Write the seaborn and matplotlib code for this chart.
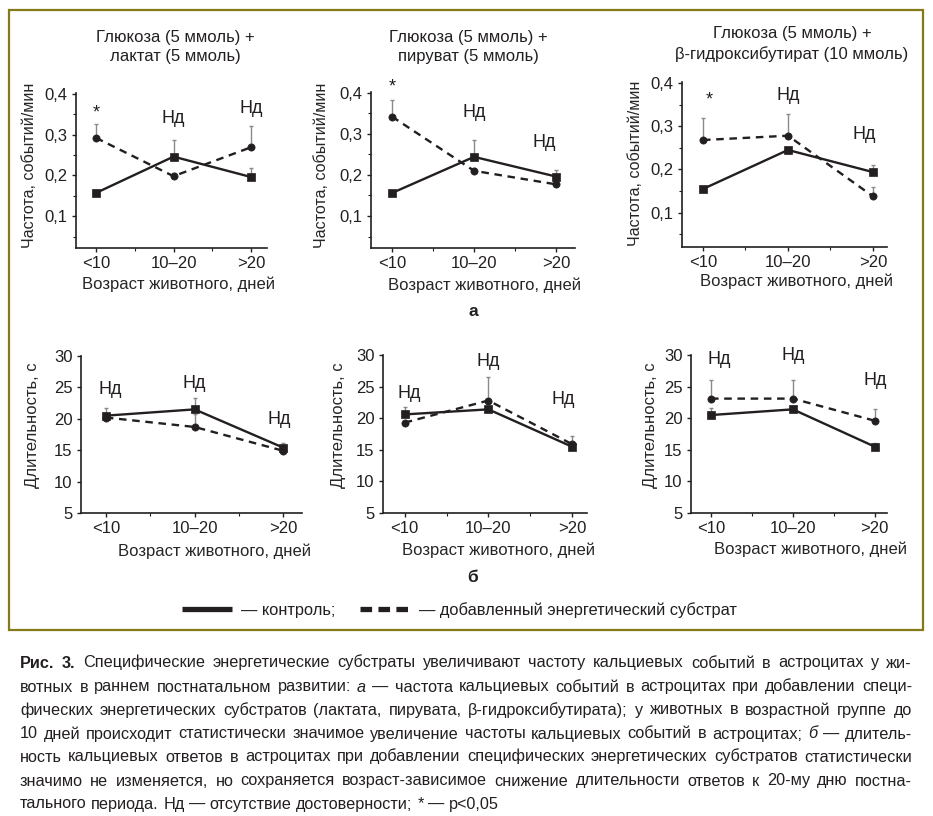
import numpy as np
import pandas as pd
import matplotlib
matplotlib.use("Agg")
import matplotlib.pyplot as plt
import seaborn as sns
from matplotlib.lines import Line2D
from matplotlib.patches import Rectangle
from matplotlib import font_manager

# ---------------- data ----------------
ages = ["<10", "10–20", ">20"]
groups = ["control", "substrate"]

freq_titles = [
    "Глюкоза (5 ммоль) +\nлактат (5 ммоль)",
    "Глюкоза (5 ммоль) +\nпируват (5 ммоль)",
    "Глюкоза (5 ммоль) +\nβ-гидроксибутират (10 ммоль)",
]
freq_control = [[0.157, 0.246, 0.196], [0.156, 0.244, 0.196], [0.155, 0.245, 0.194]]
freq_control_err = [[0.006, 0.042, 0.021], [0.006, 0.041, 0.017], [0.005, 0.006, 0.017]]
freq_substrate = [[0.292, 0.198, 0.269], [0.342, 0.210, 0.177], [0.268, 0.278, 0.138]]
freq_substrate_err = [[0.035, 0.008, 0.053], [0.040, 0.006, 0.006], [0.052, 0.050, 0.021]]
freq_ticks = [0.1, 0.2, 0.3, 0.4]
freq_ticklabels = ["0,1", "0,2", "0,3", "0,4"]
freq_notes = [
    [(0, 0.353, "*"), (1, 0.340, "Нд"), (2, 0.365, "Нд")],
    [(0, 0.415, "*"), (1, 0.352, "Нд"), (1.85, 0.280, "Нд")],
    [(0.07, 0.360, "*"), (1, 0.370, "Нд"), (1.9, 0.280, "Нд")],
]

dur_control = [[20.5, 21.5, 15.4], [20.6, 21.4, 15.5], [20.5, 21.4, 15.5]]
dur_control_err = [[1.2, 1.8, 0.8], [1.1, 0.4, 0.4], [1.1, 0.5, 0.6]]
dur_substrate = [[20.2, 18.7, 14.9], [19.3, 22.8, 15.9], [23.1, 23.1, 19.6]]
dur_substrate_err = [[0.3, 2.0, 0.3], [0.3, 3.7, 1.3], [2.9, 3.0, 1.9]]
dur_ticks = [5, 10, 15, 20, 25, 30]
dur_notes = [
    [(0.05, 24.6, "Нд"), (1.0, 25.7, "Нд"), (1.95, 19.9, "Нд")],
    [(0.05, 23.9, "Нд"), (1.0, 28.9, "Нд"), (1.9, 23.0, "Нд")],
    [(0.1, 29.3, "Нд"), (1.0, 30.0, "Нд"), (2.0, 25.9, "Нд")],
]

legend_labels = ["— контроль;", "— добавленный энергетический субстрат"]
panel_letters = ["а", "б"]

caption_lines = [
    [("Рис.", "b"), ("3.", "b"), ("Специфические", ""), ("энергетические", ""), ("субстраты", ""),
     ("увеличивают", ""), ("частоту", ""), ("кальциевых", ""), ("событий", ""), ("в", ""),
     ("астроцитах", ""), ("у", ""), ("жи-", "")],
    [("вотных", ""), ("в", ""), ("раннем", ""), ("постнатальном", ""), ("развитии:", ""), ("а", "i"),
     ("—", ""), ("частота", ""), ("кальциевых", ""), ("событий", ""), ("в", ""), ("астроцитах", ""),
     ("при", ""), ("добавлении", ""), ("специ-", "")],
    [("фических", ""), ("энергетических", ""), ("субстратов", ""), ("(лактата,", ""), ("пирувата,", ""),
     ("β-гидроксибутирата);", ""), ("у", ""), ("животных", ""), ("в", ""), ("возрастной", ""),
     ("группе", ""), ("до", "")],
    [("10", ""), ("дней", ""), ("происходит", ""), ("статистически", ""), ("значимое", ""),
     ("увеличение", ""), ("частоты", ""), ("кальциевых", ""), ("событий", ""), ("в", ""),
     ("астроцитах;", ""), ("б", "i"), ("—", ""), ("длитель-", "")],
    [("ность", ""), ("кальциевых", ""), ("ответов", ""), ("в", ""), ("астроцитах", ""), ("при", ""),
     ("добавлении", ""), ("специфических", ""), ("энергетических", ""), ("субстратов", ""),
     ("статистически", "")],
    [("значимо", ""), ("не", ""), ("изменяется,", ""), ("но", ""), ("сохраняется", ""),
     ("возраст-зависимое", ""), ("снижение", ""), ("длительности", ""), ("ответов", ""), ("к", ""),
     ("20-му", ""), ("дню", ""), ("постна-", "")],
    [("тального", ""), ("периода.", ""), ("Нд", ""), ("—", ""), ("отсутствие", ""),
     ("достоверности;", ""), ("*", ""), ("—", ""), ("p<0,05", "")],
]

# ---------------- style ----------------
sns.set_theme(style="ticks")
plt.rcParams["font.family"] = ["Liberation Sans", "DejaVu Sans"]
INK = "#231f20"
GRAY = "#8a8a8a"
OLIVE = "#857a1a"
FS = 12
plt.rcParams.update({
    "axes.edgecolor": INK, "axes.linewidth": 1.2,
    "xtick.color": INK, "ytick.color": INK,
    "xtick.labelcolor": INK, "ytick.labelcolor": INK,
    "xtick.major.size": 3, "ytick.major.size": 3,
    "xtick.minor.size": 2, "ytick.minor.size": 2,
    "xtick.major.width": 1.0, "ytick.major.width": 1.0,
    "xtick.minor.width": 0.8, "ytick.minor.width": 0.8,
    "xtick.labelsize": FS, "ytick.labelsize": FS,
    "xtick.major.pad": 3.0, "ytick.major.pad": 3.0,
    "text.color": INK,
})

W, H = 933, 816
fig = plt.figure(figsize=(W / 100, H / 100), dpi=100)
fig.patch.set_facecolor("white")


def px_axes(x0, x1, y0, y1):
    return fig.add_axes([x0 / W, 1 - y1 / H, (x1 - x0) / W, (y1 - y0) / H])


def fx(px):
    return px / W


def fy(py):
    return 1 - py / H


freq_boxes = [(76, 267, 93, 248), (371, 575, 92, 248), (682, 887, 82, 247)]
freq_xlims = [(-0.258, 2.206), (-0.256, 2.23), (-0.247, 2.165)]
freq_ylims = [(0.022, 0.402), (0.022, 0.402), (0.021, 0.402)]
freq_title_pos = [(175, 47), (468, 47), (792, 44)]
freq_ylabel_pos = [(30, 165), (322, 165), (635, 163)]
freq_xlabel_pos = [(179, 284), (484, 285), (797, 281)]

dur_boxes = [(81, 302, 356, 513), (383, 587, 355, 513), (691, 887, 355, 513)]
dur_xlims = [(-0.28, 2.21), (-0.26, 2.18), (-0.244, 2.15)]
dur_ylabel_pos = [(33, 425), (339, 425), (651, 425)]
dur_xlabel_pos = [(214, 551), (499, 550), (810, 549)]


def draw_panel(ax, ctrl, ctrl_err, sub, sub_err):
    df = pd.DataFrame({
        "pos": list(range(len(ages))) * 2,
        "value": list(ctrl) + list(sub),
        "group": [groups[0]] * len(ages) + [groups[1]] * len(ages),
    })
    errs = list(ctrl_err) + list(sub_err)
    ax.errorbar(df["pos"], df["value"], yerr=[np.zeros(len(errs)), errs], fmt="none",
                ecolor=GRAY, elinewidth=1.0, capsize=1.5, capthick=1.0, zorder=1)
    sns.lineplot(data=df, x="pos", y="value", style="group", style_order=groups,
                 markers={"control": "s", "substrate": "o"},
                 dashes={"control": "", "substrate": (3.2, 2.4)},
                 color=INK, linewidth=1.7, markersize=5.2,
                 markeredgecolor=INK, markeredgewidth=0.5,
                 legend=False, ax=ax, zorder=3)
    ax.set_xticks(range(len(ages)))
    ax.set_xticklabels(ages)
    ax.set_xticks([0.5, 1.5], minor=True)
    sns.despine(ax=ax)
    ax.set_facecolor("white")


for i in range(3):
    ax = px_axes(*freq_boxes[i])
    draw_panel(ax, freq_control[i], freq_control_err[i], freq_substrate[i], freq_substrate_err[i])
    ax.set_xlim(*freq_xlims[i])
    ax.set_ylim(*freq_ylims[i])
    ax.set_yticks(freq_ticks)
    ax.set_yticklabels(freq_ticklabels)
    ax.set_yticks([0.05, 0.15, 0.25, 0.35], minor=True)
    ax.set_ylabel("Частота, событий/мин", fontsize=11.6, va="center")
    ax.yaxis.set_label_coords(fx(freq_ylabel_pos[i][0]), fy(freq_ylabel_pos[i][1]), transform=fig.transFigure)
    ax.set_xlabel("Возраст животного, дней", fontsize=FS, va="center")
    ax.xaxis.set_label_coords(fx(freq_xlabel_pos[i][0]), fy(freq_xlabel_pos[i][1]), transform=fig.transFigure)
    fig.text(fx(freq_title_pos[i][0]), fy(freq_title_pos[i][1]), freq_titles[i], ha="center", va="center",
             fontsize=FS, linespacing=1.35)
    for (x, y, t) in freq_notes[i]:
        ax.text(x, y, t, ha="center", va="center", fontsize=13, clip_on=False)

for i in range(3):
    ax = px_axes(*dur_boxes[i])
    draw_panel(ax, dur_control[i], dur_control_err[i], dur_substrate[i], dur_substrate_err[i])
    ax.set_xlim(*dur_xlims[i])
    ax.set_ylim(5, 30)
    ax.set_yticks(dur_ticks)
    ax.set_yticklabels([str(t) for t in dur_ticks])
    ax.set_ylabel("Длительность, с", fontsize=FS, va="center")
    ax.yaxis.set_label_coords(fx(dur_ylabel_pos[i][0]), fy(dur_ylabel_pos[i][1]), transform=fig.transFigure)
    ax.set_xlabel("Возраст животного, дней", fontsize=FS, va="center")
    ax.xaxis.set_label_coords(fx(dur_xlabel_pos[i][0]), fy(dur_xlabel_pos[i][1]), transform=fig.transFigure)
    for (x, y, t) in dur_notes[i]:
        ax.text(x, y, t, ha="center", va="center", fontsize=13, clip_on=False)

# panel letters
fig.text(fx(473), fy(311), panel_letters[0], ha="center", va="center", fontsize=12.5, fontweight="bold")
fig.text(fx(473), fy(577), panel_letters[1], ha="center", va="center", fontsize=12.5, fontweight="bold")

# legend
handles = [Line2D([], [], color=INK, lw=3.8, ls="-", solid_capstyle="butt"),
           Line2D([], [], color=INK, lw=3.8, ls=(0, (2.2, 1.2)), dash_capstyle="butt")]
fig.legend(handles, legend_labels, loc="center", bbox_to_anchor=(fx(459), fy(610)), ncol=2,
           frameon=False, fontsize=11.8, handlelength=3.05, handletextpad=0.55, columnspacing=1.5)

# frame
fig.add_artist(Rectangle((fx(9), fy(630)), fx(923) - fx(9), fy(10) - fy(630), transform=fig.transFigure,
                         fill=False, edgecolor=OLIVE, linewidth=1.6))

# ---------------- caption (justified) ----------------
names = {f.name for f in font_manager.fontManager.ttflist}
cap_family = "Liberation Sans Narrow" if "Liberation Sans Narrow" in names else "Liberation Sans"
cap_fam = [cap_family, "DejaVu Sans"]
fig.canvas.draw()
renderer = fig.canvas.get_renderer()


def word_width(s, style, size):
    t = fig.text(0, 0, s, fontsize=size, family=cap_fam,
                 fontweight="bold" if style == "b" else "normal",
                 fontstyle="italic" if style == "i" else "normal")
    w = t.get_window_extent(renderer).width
    t.remove()
    return w


base = 10.0
space_base = word_width("н н", "", base) - word_width("нн", "", base)
nat = []
for line in caption_lines[:-1]:
    nat.append(sum(word_width(w, s, base) for w, s in line) + space_base * (len(line) - 1))
left_px, right_px = 20, 912
size = base * (right_px - left_px) * 0.985 / max(nat)
space = space_base * size / base
line_y = [663, 687, 710, 734, 757, 781, 804]
for li, line in enumerate(caption_lines):
    widths = [word_width(w, s, size) for w, s in line]
    if li < len(caption_lines) - 1:
        gap = (right_px - left_px - sum(widths)) / (len(line) - 1)
    else:
        gap = space
    x = left_px
    for (w, s), wd in zip(line, widths):
        fig.text(fx(x), fy(line_y[li] + 4.5), w, fontsize=size, family=cap_fam, va="baseline", ha="left",
                 fontweight="bold" if s == "b" else "normal",
                 fontstyle="italic" if s == "i" else "normal", color=INK)
        x += wd + gap

fig.savefig("out.png", dpi=100, facecolor="white")
